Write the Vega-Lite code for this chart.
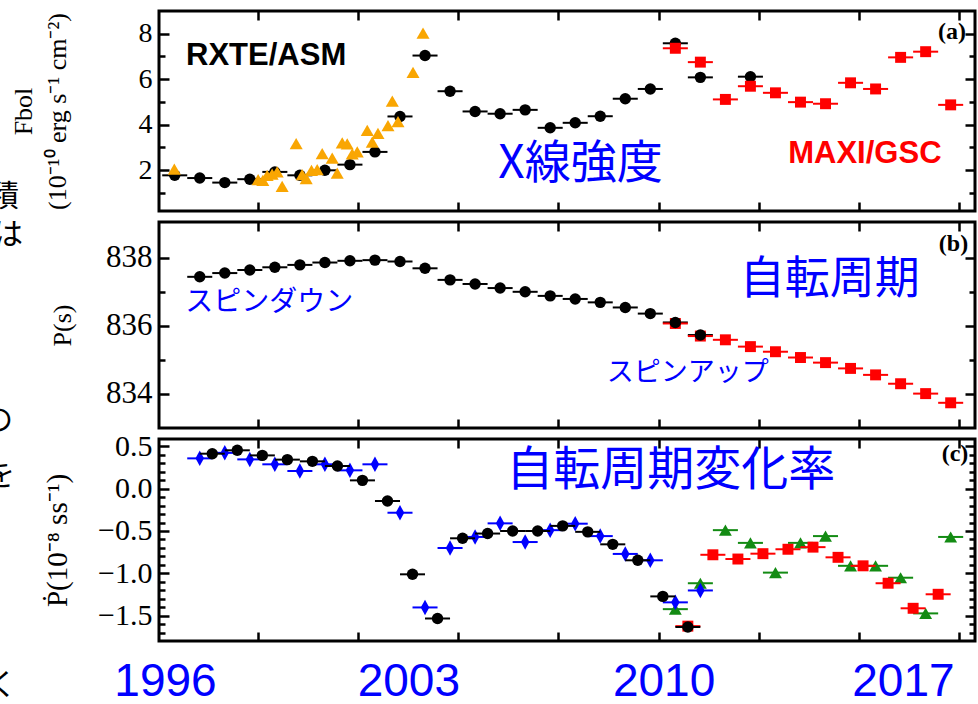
{
  "$schema": "https://vega.github.io/schema/vega-lite/v6.json",
  "background": "white",
  "padding": {"left": -19, "top": 8, "right": 3, "bottom": 0},
  "spacing": 11,
  "bounds": "flush",
  "config": {
    "view": {"stroke": "black", "strokeWidth": 3},
    "axis": {"grid": false, "domain": false, "labelFont": "Liberation Serif", "titleFont": "Liberation Serif", "labelColor": "black", "titleColor": "black", "titleFontWeight": "normal", "tickColor": "black"}
  },
  "datasets": {
    "asm_flux": [
      {"mjd": 50167, "xe": 125, "value": 1.77}, {"mjd": 50417, "xe": 125, "value": 1.65}, {"mjd": 50667, "xe": 125, "value": 1.45},
      {"mjd": 50917, "xe": 125, "value": 1.60}, {"mjd": 51167, "xe": 125, "value": 1.92}, {"mjd": 51417, "xe": 125, "value": 1.77},
      {"mjd": 51667, "xe": 125, "value": 1.99}, {"mjd": 51917, "xe": 125, "value": 2.24}, {"mjd": 52167, "xe": 125, "value": 2.80},
      {"mjd": 52417, "xe": 125, "value": 4.36}, {"mjd": 52667, "xe": 125, "value": 7.04}, {"mjd": 52917, "xe": 125, "value": 5.47},
      {"mjd": 53167, "xe": 125, "value": 4.58}, {"mjd": 53417, "xe": 125, "value": 4.48}, {"mjd": 53667, "xe": 125, "value": 4.65},
      {"mjd": 53917, "xe": 125, "value": 3.86}, {"mjd": 54167, "xe": 125, "value": 4.08}, {"mjd": 54417, "xe": 125, "value": 4.37},
      {"mjd": 54667, "xe": 125, "value": 5.14}, {"mjd": 54917, "xe": 125, "value": 5.57}, {"mjd": 55167, "xe": 125, "value": 7.58},
      {"mjd": 55417, "xe": 125, "value": 6.08}, {"mjd": 55917, "xe": 125, "value": 6.11}
    ],
    "asm_dwell": [
      {"mjd": 50163, "value": 2.04}, {"mjd": 51000, "value": 1.58}, {"mjd": 51047, "value": 1.55}, {"mjd": 51090, "value": 1.77},
      {"mjd": 51140, "value": 1.82}, {"mjd": 51190, "value": 1.92}, {"mjd": 51240, "value": 1.28}, {"mjd": 51380, "value": 3.16},
      {"mjd": 51440, "value": 1.80}, {"mjd": 51480, "value": 1.63}, {"mjd": 51533, "value": 1.99}, {"mjd": 51590, "value": 2.02},
      {"mjd": 51640, "value": 2.72}, {"mjd": 51740, "value": 2.53}, {"mjd": 51790, "value": 1.87}, {"mjd": 51840, "value": 3.20},
      {"mjd": 51890, "value": 3.15}, {"mjd": 51940, "value": 2.71}, {"mjd": 51990, "value": 2.80}, {"mjd": 52090, "value": 3.75},
      {"mjd": 52140, "value": 3.23}, {"mjd": 52197, "value": 3.62}, {"mjd": 52297, "value": 3.96}, {"mjd": 52340, "value": 5.03},
      {"mjd": 52397, "value": 4.13}, {"mjd": 52547, "value": 6.30}, {"mjd": 52647, "value": 8.03}
    ],
    "maxi_flux": [
      {"mjd": 55167, "xe": 125, "value": 7.36}, {"mjd": 55417, "xe": 125, "value": 6.75}, {"mjd": 55667, "xe": 125, "value": 5.11},
      {"mjd": 55917, "xe": 125, "value": 5.69}, {"mjd": 56167, "xe": 125, "value": 5.40}, {"mjd": 56417, "xe": 125, "value": 4.99},
      {"mjd": 56667, "xe": 125, "value": 4.92}, {"mjd": 56917, "xe": 125, "value": 5.84}, {"mjd": 57167, "xe": 125, "value": 5.57},
      {"mjd": 57417, "xe": 125, "value": 6.96}, {"mjd": 57667, "xe": 125, "value": 7.21}, {"mjd": 57917, "xe": 125, "value": 4.87}
    ],
    "asm_period": [
      {"mjd": 50417, "xe": 125, "value": 837.44}, {"mjd": 50667, "xe": 125, "value": 837.55}, {"mjd": 50917, "xe": 125, "value": 837.64},
      {"mjd": 51167, "xe": 125, "value": 837.72}, {"mjd": 51417, "xe": 125, "value": 837.79}, {"mjd": 51667, "xe": 125, "value": 837.86},
      {"mjd": 51917, "xe": 125, "value": 837.91}, {"mjd": 52167, "xe": 125, "value": 837.93}, {"mjd": 52417, "xe": 125, "value": 837.89},
      {"mjd": 52667, "xe": 125, "value": 837.69}, {"mjd": 52917, "xe": 125, "value": 837.35}, {"mjd": 53167, "xe": 125, "value": 837.23},
      {"mjd": 53417, "xe": 125, "value": 837.11}, {"mjd": 53667, "xe": 125, "value": 837.00}, {"mjd": 53917, "xe": 125, "value": 836.88},
      {"mjd": 54167, "xe": 125, "value": 836.79}, {"mjd": 54417, "xe": 125, "value": 836.69}, {"mjd": 54667, "xe": 125, "value": 836.54},
      {"mjd": 54917, "xe": 125, "value": 836.36}, {"mjd": 55167, "xe": 125, "value": 836.10}, {"mjd": 55417, "xe": 125, "value": 835.73}
    ],
    "maxi_period": [
      {"mjd": 55167, "xe": 125, "value": 836.07}, {"mjd": 55417, "xe": 125, "value": 835.70}, {"mjd": 55667, "xe": 125, "value": 835.59},
      {"mjd": 55917, "xe": 125, "value": 835.39}, {"mjd": 56167, "xe": 125, "value": 835.24}, {"mjd": 56417, "xe": 125, "value": 835.07},
      {"mjd": 56667, "xe": 125, "value": 834.92}, {"mjd": 56917, "xe": 125, "value": 834.75}, {"mjd": 57167, "xe": 125, "value": 834.56},
      {"mjd": 57417, "xe": 125, "value": 834.30}, {"mjd": 57667, "xe": 125, "value": 834.01}, {"mjd": 57917, "xe": 125, "value": 833.74}
    ],
    "pdot_black": [
      {"mjd": 50542, "xe": 125, "value": 0.41}, {"mjd": 50792, "xe": 125, "value": 0.45}, {"mjd": 51042, "xe": 125, "value": 0.39},
      {"mjd": 51292, "xe": 125, "value": 0.34}, {"mjd": 51542, "xe": 125, "value": 0.32}, {"mjd": 51792, "xe": 125, "value": 0.265},
      {"mjd": 52042, "xe": 125, "value": 0.096}, {"mjd": 52292, "xe": 125, "value": -0.147}, {"mjd": 52542, "xe": 125, "value": -1.01},
      {"mjd": 52792, "xe": 125, "value": -1.53}, {"mjd": 53042, "xe": 125, "value": -0.586}, {"mjd": 53292, "xe": 125, "value": -0.53},
      {"mjd": 53542, "xe": 125, "value": -0.50}, {"mjd": 53792, "xe": 125, "value": -0.50}, {"mjd": 54042, "xe": 125, "value": -0.44},
      {"mjd": 54292, "xe": 125, "value": -0.51}, {"mjd": 54542, "xe": 125, "value": -0.657}, {"mjd": 54792, "xe": 125, "value": -0.845},
      {"mjd": 55042, "xe": 125, "value": -1.27}, {"mjd": 55292, "xe": 125, "value": -1.63}
    ],
    "pdot_blue": [
      {"mjd": 50417, "xe": 125, "value": 0.355}, {"mjd": 50667, "xe": 125, "value": 0.42}, {"mjd": 50917, "xe": 125, "value": 0.343},
      {"mjd": 51167, "xe": 125, "value": 0.285}, {"mjd": 51417, "xe": 125, "value": 0.206}, {"mjd": 51667, "xe": 125, "value": 0.285},
      {"mjd": 51917, "xe": 125, "value": 0.214}, {"mjd": 52167, "xe": 125, "value": 0.285}, {"mjd": 52417, "xe": 125, "value": -0.285},
      {"mjd": 52667, "xe": 125, "value": -1.40}, {"mjd": 52917, "xe": 125, "value": -0.70}, {"mjd": 53167, "xe": 125, "value": -0.57},
      {"mjd": 53417, "xe": 125, "value": -0.41}, {"mjd": 53667, "xe": 125, "value": -0.63}, {"mjd": 53917, "xe": 125, "value": -0.49},
      {"mjd": 54167, "xe": 125, "value": -0.414}, {"mjd": 54417, "xe": 125, "value": -0.56}, {"mjd": 54667, "xe": 125, "value": -0.77},
      {"mjd": 54917, "xe": 125, "value": -0.845}, {"mjd": 55167, "xe": 125, "value": -1.34}, {"mjd": 55417, "xe": 125, "value": -1.20}
    ],
    "pdot_green": [
      {"mjd": 55167, "xe": 125, "value": -1.42}, {"mjd": 55417, "xe": 125, "value": -1.115}, {"mjd": 55667, "xe": 125, "value": -0.49},
      {"mjd": 55917, "xe": 125, "value": -0.64}, {"mjd": 56167, "xe": 125, "value": -0.99}, {"mjd": 56417, "xe": 125, "value": -0.64},
      {"mjd": 56667, "xe": 125, "value": -0.56}, {"mjd": 56917, "xe": 125, "value": -0.91}, {"mjd": 57167, "xe": 125, "value": -0.91},
      {"mjd": 57417, "xe": 125, "value": -1.05}, {"mjd": 57667, "xe": 125, "value": -1.47}, {"mjd": 57917, "xe": 125, "value": -0.57}
    ],
    "pdot_red": [
      {"mjd": 55292, "xe": 125, "value": -1.62}, {"mjd": 55542, "xe": 125, "value": -0.78}, {"mjd": 55792, "xe": 125, "value": -0.83},
      {"mjd": 56042, "xe": 125, "value": -0.767}, {"mjd": 56292, "xe": 125, "value": -0.715}, {"mjd": 56542, "xe": 125, "value": -0.69},
      {"mjd": 56792, "xe": 125, "value": -0.81}, {"mjd": 57042, "xe": 125, "value": -0.91}, {"mjd": 57292, "xe": 125, "value": -1.115},
      {"mjd": 57542, "xe": 125, "value": -1.41}, {"mjd": 57792, "xe": 125, "value": -1.245}
    ]
  },
  "vconcat": [
    {
      "width": 816, "height": 200,
      "resolve": {"axis": {"x": "independent", "y": "independent"}},
      "layer": [
        {
          "data": {"name": "asm_flux"},
          "mark": {"type": "errorbar", "color": "black", "thickness": 2},
          "encoding": {
            "x": {"field": "mjd", "type": "quantitative", "scale": {"domain": [50010, 58160], "nice": false, "zero": false},
                  "axis": {"orient": "bottom", "values": [51000, 52000, 53000, 54000, 55000, 56000, 57000, 58000], "labels": false, "tickSize": -9, "tickWidth": 2.5, "title": null}},
            "xError": {"field": "xe"},
            "y": {"field": "value", "type": "quantitative", "scale": {"domain": [0.2, 9.0], "nice": false, "zero": false},
                  "axis": {"orient": "left", "values": [1, 2, 3, 4, 5, 6, 7, 8], "labelExpr": "datum.value % 2 == 0 ? datum.label : ''",
                           "tickSize": {"condition": {"test": "datum.value % 2 == 0", "value": -10}, "value": -6},
                           "tickWidth": 2.5, "labelPadding": 17, "labelFontSize": 28, "labelOverlap": false,
                           "title": ["Fbol", "(10⁻¹⁰ erg s⁻¹ cm⁻²)"], "titleX": -136, "titleBaseline": "middle", "titleAngle": 270,
                           "titleFontSize": 26, "titleLineHeight": 34}}
          }
        },
        {
          "data": {"name": "asm_flux"},
          "mark": {"type": "point", "shape": "circle", "filled": true, "color": "black", "opacity": 1, "size": 130},
          "encoding": {
            "x": {"field": "mjd", "type": "quantitative", "scale": {"domain": [50010, 58160], "nice": false, "zero": false}, "axis": null},
            "y": {"field": "value", "type": "quantitative", "scale": {"domain": [0.2, 9.0], "nice": false, "zero": false}, "axis": null}
          }
        },
        {
          "data": {"name": "asm_dwell"},
          "mark": {"type": "point", "shape": "triangle-up", "filled": true, "color": "#f9a602", "opacity": 1, "size": 170},
          "encoding": {
            "x": {"field": "mjd", "type": "quantitative", "scale": {"domain": [50010, 58160], "nice": false, "zero": false}, "axis": null},
            "y": {"field": "value", "type": "quantitative", "scale": {"domain": [0.2, 9.0], "nice": false, "zero": false}, "axis": null}
          }
        },
        {
          "data": {"name": "maxi_flux"},
          "mark": {"type": "errorbar", "color": "#ff0000", "thickness": 2},
          "encoding": {
            "x": {"field": "mjd", "type": "quantitative", "scale": {"domain": [50010, 58160], "nice": false, "zero": false}, "axis": null},
            "xError": {"field": "xe"},
            "y": {"field": "value", "type": "quantitative", "scale": {"domain": [0.2, 9.0], "nice": false, "zero": false}, "axis": null}
          }
        },
        {
          "data": {"name": "maxi_flux"},
          "mark": {"type": "point", "shape": "square", "filled": true, "color": "#ff0000", "opacity": 1, "size": 120},
          "encoding": {
            "x": {"field": "mjd", "type": "quantitative", "scale": {"domain": [50010, 58160], "nice": false, "zero": false}, "axis": null},
            "y": {"field": "value", "type": "quantitative", "scale": {"domain": [0.2, 9.0], "nice": false, "zero": false}, "axis": null}
          }
        },
        {
          "data": {"values": [{}]},
          "mark": {"type": "text", "text": "RXTE/ASM", "font": "Liberation Sans", "fontWeight": "bold", "fontSize": 31, "color": "black", "align": "center", "baseline": "middle"},
          "encoding": {
            "x": {"datum": 51080, "type": "quantitative", "scale": {"domain": [50010, 58160], "nice": false, "zero": false}, "axis": null},
            "y": {"datum": 7.04, "type": "quantitative", "scale": {"domain": [0.2, 9.0], "nice": false, "zero": false}, "axis": null}
          }
        },
        {
          "data": {"values": [{}]},
          "mark": {"type": "text", "text": "MAXI/GSC", "font": "Liberation Sans", "fontWeight": "bold", "fontSize": 31, "color": "#ff0000", "align": "center", "baseline": "middle"},
          "encoding": {
            "x": {"datum": 57060, "type": "quantitative", "scale": {"domain": [50010, 58160], "nice": false, "zero": false}, "axis": null},
            "y": {"datum": 2.69, "type": "quantitative", "scale": {"domain": [0.2, 9.0], "nice": false, "zero": false}, "axis": null}
          }
        },
        {
          "data": {"values": [{}]},
          "mark": {"type": "text", "text": "X線強度", "font": "Noto Sans CJK JP", "fontSize": 46, "color": "#0000ff", "align": "center", "baseline": "middle"},
          "encoding": {
            "x": {"datum": 54220, "type": "quantitative", "scale": {"domain": [50010, 58160], "nice": false, "zero": false}, "axis": null},
            "y": {"datum": 2.25, "type": "quantitative", "scale": {"domain": [0.2, 9.0], "nice": false, "zero": false}, "axis": null}
          }
        },
        {
          "data": {"values": [{}]},
          "mark": {"type": "text", "text": "積", "font": "Noto Sans CJK JP", "fontSize": 30, "color": "black", "align": "center", "baseline": "middle"},
          "encoding": {
            "x": {"datum": 48462, "type": "quantitative", "scale": {"domain": [50010, 58160], "nice": false, "zero": false}, "axis": null},
            "y": {"datum": 0.81, "type": "quantitative", "scale": {"domain": [0.2, 9.0], "nice": false, "zero": false}, "axis": null}
          }
        },
        {
          "data": {"values": [{}]},
          "mark": {"type": "text", "text": "(a)", "font": "Liberation Serif", "fontWeight": "bold", "fontSize": 24, "color": "black", "align": "center", "baseline": "middle"},
          "encoding": {
            "x": {"datum": 57930, "type": "quantitative", "scale": {"domain": [50010, 58160], "nice": false, "zero": false},
                  "axis": {"orient": "top", "values": [51000, 52000, 53000, 54000, 55000, 56000, 57000, 58000], "labels": false, "tickSize": -9, "tickWidth": 2.5, "title": null}},
            "y": {"datum": 8.09, "type": "quantitative", "scale": {"domain": [0.2, 9.0], "nice": false, "zero": false},
                  "axis": {"orient": "right", "values": [1, 2, 3, 4, 5, 6, 7, 8], "labels": false,
                           "tickSize": {"condition": {"test": "datum.value % 2 == 0", "value": -10}, "value": -6}, "tickWidth": 2.5, "title": null}}
          }
        }
      ]
    },
    {
      "width": 816, "height": 206,
      "resolve": {"axis": {"x": "independent", "y": "independent"}},
      "layer": [
        {
          "data": {"name": "asm_period"},
          "mark": {"type": "errorbar", "color": "black", "thickness": 2},
          "encoding": {
            "x": {"field": "mjd", "type": "quantitative", "scale": {"domain": [50010, 58160], "nice": false, "zero": false},
                  "axis": {"orient": "bottom", "values": [51000, 52000, 53000, 54000, 55000, 56000, 57000, 58000], "labels": false, "tickSize": -9, "tickWidth": 2.5, "title": null}},
            "xError": {"field": "xe"},
            "y": {"field": "value", "type": "quantitative", "scale": {"domain": [833.0, 839.05], "nice": false, "zero": false},
                  "axis": {"orient": "left", "values": [834, 835, 836, 837, 838], "labelExpr": "datum.value % 2 == 0 ? datum.label : ''",
                           "tickSize": {"condition": {"test": "datum.value % 2 == 0", "value": -10}, "value": -6},
                           "tickWidth": 2.5, "labelPadding": 17, "labelFontSize": 31, "labelOverlap": false,
                           "title": "P(s)", "titleX": -97, "titleBaseline": "middle", "titleAngle": 270, "titleFontSize": 26}}
          }
        },
        {
          "data": {"name": "maxi_period"},
          "mark": {"type": "errorbar", "color": "#ff0000", "thickness": 2},
          "encoding": {
            "x": {"field": "mjd", "type": "quantitative", "scale": {"domain": [50010, 58160], "nice": false, "zero": false}, "axis": null},
            "xError": {"field": "xe"},
            "y": {"field": "value", "type": "quantitative", "scale": {"domain": [833.0, 839.05], "nice": false, "zero": false}, "axis": null}
          }
        },
        {
          "data": {"name": "maxi_period"},
          "mark": {"type": "point", "shape": "square", "filled": true, "color": "#ff0000", "opacity": 1, "size": 120},
          "encoding": {
            "x": {"field": "mjd", "type": "quantitative", "scale": {"domain": [50010, 58160], "nice": false, "zero": false}, "axis": null},
            "y": {"field": "value", "type": "quantitative", "scale": {"domain": [833.0, 839.05], "nice": false, "zero": false}, "axis": null}
          }
        },
        {
          "data": {"name": "asm_period"},
          "mark": {"type": "point", "shape": "circle", "filled": true, "color": "black", "opacity": 1, "size": 130},
          "encoding": {
            "x": {"field": "mjd", "type": "quantitative", "scale": {"domain": [50010, 58160], "nice": false, "zero": false}, "axis": null},
            "y": {"field": "value", "type": "quantitative", "scale": {"domain": [833.0, 839.05], "nice": false, "zero": false}, "axis": null}
          }
        },
        {
          "data": {"values": [{}]},
          "mark": {"type": "text", "text": "自転周期", "font": "Noto Sans CJK JP", "fontSize": 45, "color": "#0000ff", "align": "center", "baseline": "middle"},
          "encoding": {
            "x": {"datum": 56710, "type": "quantitative", "scale": {"domain": [50010, 58160], "nice": false, "zero": false}, "axis": null},
            "y": {"datum": 837.35, "type": "quantitative", "scale": {"domain": [833.0, 839.05], "nice": false, "zero": false}, "axis": null}
          }
        },
        {
          "data": {"values": [{}]},
          "mark": {"type": "text", "text": "スピンダウン", "font": "Noto Sans CJK JP", "fontSize": 28, "color": "#0000ff", "align": "center", "baseline": "middle"},
          "encoding": {
            "x": {"datum": 51110, "type": "quantitative", "scale": {"domain": [50010, 58160], "nice": false, "zero": false}, "axis": null},
            "y": {"datum": 836.68, "type": "quantitative", "scale": {"domain": [833.0, 839.05], "nice": false, "zero": false}, "axis": null}
          }
        },
        {
          "data": {"values": [{}]},
          "mark": {"type": "text", "text": "スピンアップ", "font": "Noto Sans CJK JP", "fontSize": 27, "color": "#0000ff", "align": "center", "baseline": "middle"},
          "encoding": {
            "x": {"datum": 55290, "type": "quantitative", "scale": {"domain": [50010, 58160], "nice": false, "zero": false}, "axis": null},
            "y": {"datum": 834.62, "type": "quantitative", "scale": {"domain": [833.0, 839.05], "nice": false, "zero": false}, "axis": null}
          }
        },
        {
          "data": {"values": [{}]},
          "mark": {"type": "text", "text": "は", "font": "Noto Sans CJK JP", "fontSize": 30, "color": "black", "align": "center", "baseline": "middle"},
          "encoding": {
            "x": {"datum": 48502, "type": "quantitative", "scale": {"domain": [50010, 58160], "nice": false, "zero": false}, "axis": null},
            "y": {"datum": 838.68, "type": "quantitative", "scale": {"domain": [833.0, 839.05], "nice": false, "zero": false}, "axis": null}
          }
        },
        {
          "data": {"values": [{}]},
          "mark": {"type": "text", "text": "の", "font": "Noto Sans CJK JP", "fontSize": 30, "color": "black", "align": "center", "baseline": "middle"},
          "encoding": {
            "x": {"datum": 48402, "type": "quantitative", "scale": {"domain": [50010, 58160], "nice": false, "zero": false}, "axis": null},
            "y": {"datum": 833.2, "type": "quantitative", "scale": {"domain": [833.0, 839.05], "nice": false, "zero": false}, "axis": null}
          }
        },
        {
          "data": {"values": [{}]},
          "mark": {"type": "text", "text": "(b)", "font": "Liberation Serif", "fontWeight": "bold", "fontSize": 24, "color": "black", "align": "center", "baseline": "middle"},
          "encoding": {
            "x": {"datum": 57945, "type": "quantitative", "scale": {"domain": [50010, 58160], "nice": false, "zero": false},
                  "axis": {"orient": "top", "values": [51000, 52000, 53000, 54000, 55000, 56000, 57000, 58000], "labels": false, "tickSize": -9, "tickWidth": 2.5, "title": null}},
            "y": {"datum": 838.41, "type": "quantitative", "scale": {"domain": [833.0, 839.05], "nice": false, "zero": false},
                  "axis": {"orient": "right", "values": [834, 835, 836, 837, 838], "labels": false,
                           "tickSize": {"condition": {"test": "datum.value % 2 == 0", "value": -10}, "value": -6}, "tickWidth": 2.5, "title": null}}
          }
        }
      ]
    },
    {
      "width": 816, "height": 202,
      "resolve": {"axis": {"x": "independent", "y": "independent"}},
      "layer": [
        {
          "data": {"name": "pdot_green"},
          "mark": {"type": "errorbar", "color": "#138b13", "thickness": 2},
          "encoding": {
            "x": {"field": "mjd", "type": "quantitative", "scale": {"domain": [50010, 58160], "nice": false, "zero": false},
                  "axis": {"orient": "bottom", "values": [50070, 51000, 52000, 52500, 53000, 54000, 55000, 55050, 56000, 57000, 57440, 58000],
                           "labelExpr": "datum.value == 50070 ? '1996' : datum.value == 52500 ? '2003' : datum.value == 55050 ? '2010' : datum.value == 57440 ? '2017' : ''",
                           "tickSize": -9, "tickWidth": 2.5,
                           "tickColor": {"condition": {"test": "datum.value % 1000 != 0", "value": "transparent"}, "value": "black"},
                           "labelFont": "Liberation Sans", "labelFontSize": 46, "labelColor": "#0000ff", "labelPadding": 27,
                           "labelOverlap": false, "labelFlush": false, "labelBound": false, "title": null}},
            "xError": {"field": "xe"},
            "y": {"field": "value", "type": "quantitative", "scale": {"domain": [-1.795, 0.583], "nice": false, "zero": false},
                  "axis": {"orient": "left", "values": [-1.7, -1.6, -1.5, -1.4, -1.3, -1.2, -1.1, -1.0, -0.9, -0.8, -0.7, -0.6, -0.5, -0.4, -0.3, -0.2, -0.1, 0, 0.1, 0.2, 0.3, 0.4, 0.5],
                           "labelExpr": "abs(datum.value * 2 - round(datum.value * 2)) < 0.001 ? format(datum.value, '.1f') : ''",
                           "tickSize": {"condition": {"test": "abs(datum.value * 2 - round(datum.value * 2)) < 0.001", "value": -10}, "value": -6},
                           "tickWidth": 2.5, "labelPadding": 17, "labelFontSize": 30, "labelOverlap": false,
                           "title": "Ṗ(10⁻⁸ ss⁻¹)", "titleX": -102, "titleBaseline": "middle", "titleAngle": 270, "titleFontSize": 29}}
          }
        },
        {
          "data": {"name": "pdot_green"},
          "mark": {"type": "point", "shape": "triangle-up", "filled": true, "color": "#138b13", "opacity": 1, "size": 165},
          "encoding": {
            "x": {"field": "mjd", "type": "quantitative", "scale": {"domain": [50010, 58160], "nice": false, "zero": false}, "axis": null},
            "y": {"field": "value", "type": "quantitative", "scale": {"domain": [-1.795, 0.583], "nice": false, "zero": false}, "axis": null}
          }
        },
        {
          "data": {"name": "pdot_red"},
          "mark": {"type": "errorbar", "color": "#ff0000", "thickness": 2},
          "encoding": {
            "x": {"field": "mjd", "type": "quantitative", "scale": {"domain": [50010, 58160], "nice": false, "zero": false}, "axis": null},
            "xError": {"field": "xe"},
            "y": {"field": "value", "type": "quantitative", "scale": {"domain": [-1.795, 0.583], "nice": false, "zero": false}, "axis": null}
          }
        },
        {
          "data": {"name": "pdot_red"},
          "mark": {"type": "point", "shape": "square", "filled": true, "color": "#ff0000", "opacity": 1, "size": 120},
          "encoding": {
            "x": {"field": "mjd", "type": "quantitative", "scale": {"domain": [50010, 58160], "nice": false, "zero": false}, "axis": null},
            "y": {"field": "value", "type": "quantitative", "scale": {"domain": [-1.795, 0.583], "nice": false, "zero": false}, "axis": null}
          }
        },
        {
          "data": {"name": "pdot_blue"},
          "mark": {"type": "errorbar", "color": "#0000ff", "thickness": 2},
          "encoding": {
            "x": {"field": "mjd", "type": "quantitative", "scale": {"domain": [50010, 58160], "nice": false, "zero": false}, "axis": null},
            "xError": {"field": "xe"},
            "y": {"field": "value", "type": "quantitative", "scale": {"domain": [-1.795, 0.583], "nice": false, "zero": false}, "axis": null}
          }
        },
        {
          "data": {"name": "pdot_blue"},
          "mark": {"type": "point", "shape": "M0,-1L0.55,0L0,1L-0.55,0Z", "filled": true, "color": "#0000ff", "opacity": 1, "size": 240},
          "encoding": {
            "x": {"field": "mjd", "type": "quantitative", "scale": {"domain": [50010, 58160], "nice": false, "zero": false}, "axis": null},
            "y": {"field": "value", "type": "quantitative", "scale": {"domain": [-1.795, 0.583], "nice": false, "zero": false}, "axis": null}
          }
        },
        {
          "data": {"name": "pdot_black"},
          "mark": {"type": "errorbar", "color": "black", "thickness": 2},
          "encoding": {
            "x": {"field": "mjd", "type": "quantitative", "scale": {"domain": [50010, 58160], "nice": false, "zero": false}, "axis": null},
            "xError": {"field": "xe"},
            "y": {"field": "value", "type": "quantitative", "scale": {"domain": [-1.795, 0.583], "nice": false, "zero": false}, "axis": null}
          }
        },
        {
          "data": {"name": "pdot_black"},
          "mark": {"type": "point", "shape": "circle", "filled": true, "color": "black", "opacity": 1, "size": 130},
          "encoding": {
            "x": {"field": "mjd", "type": "quantitative", "scale": {"domain": [50010, 58160], "nice": false, "zero": false}, "axis": null},
            "y": {"field": "value", "type": "quantitative", "scale": {"domain": [-1.795, 0.583], "nice": false, "zero": false}, "axis": null}
          }
        },
        {
          "data": {"values": [{}]},
          "mark": {"type": "text", "text": "自転周期変化率", "font": "Noto Sans CJK JP", "fontSize": 47, "color": "#0000ff", "align": "center", "baseline": "middle"},
          "encoding": {
            "x": {"datum": 55120, "type": "quantitative", "scale": {"domain": [50010, 58160], "nice": false, "zero": false}, "axis": null},
            "y": {"datum": 0.205, "type": "quantitative", "scale": {"domain": [-1.795, 0.583], "nice": false, "zero": false}, "axis": null}
          }
        },
        {
          "data": {"values": [{}]},
          "mark": {"type": "text", "text": "を", "font": "Noto Sans CJK JP", "fontSize": 30, "color": "black", "align": "center", "baseline": "middle"},
          "encoding": {
            "x": {"datum": 48422, "type": "quantitative", "scale": {"domain": [50010, 58160], "nice": false, "zero": false}, "axis": null},
            "y": {"datum": 0.146, "type": "quantitative", "scale": {"domain": [-1.795, 0.583], "nice": false, "zero": false}, "axis": null}
          }
        },
        {
          "data": {"values": [{}]},
          "mark": {"type": "text", "text": "く", "font": "Noto Sans CJK JP", "fontSize": 30, "color": "black", "align": "center", "baseline": "middle"},
          "encoding": {
            "x": {"datum": 48442, "type": "quantitative", "scale": {"domain": [50010, 58160], "nice": false, "zero": false}, "axis": null},
            "y": {"datum": -2.33, "type": "quantitative", "scale": {"domain": [-1.795, 0.583], "nice": false, "zero": false}, "axis": null}
          }
        },
        {
          "data": {"values": [{}]},
          "mark": {"type": "text", "text": "(c)", "font": "Liberation Serif", "fontWeight": "bold", "fontSize": 24, "color": "black", "align": "center", "baseline": "middle"},
          "encoding": {
            "x": {"datum": 57960, "type": "quantitative", "scale": {"domain": [50010, 58160], "nice": false, "zero": false},
                  "axis": {"orient": "top", "values": [51000, 52000, 53000, 54000, 55000, 56000, 57000, 58000], "labels": false, "tickSize": -9, "tickWidth": 2.5, "title": null}},
            "y": {"datum": 0.405, "type": "quantitative", "scale": {"domain": [-1.795, 0.583], "nice": false, "zero": false},
                  "axis": {"orient": "right", "values": [-1.7, -1.6, -1.5, -1.4, -1.3, -1.2, -1.1, -1.0, -0.9, -0.8, -0.7, -0.6, -0.5, -0.4, -0.3, -0.2, -0.1, 0, 0.1, 0.2, 0.3, 0.4, 0.5],
                           "labels": false, "tickSize": {"condition": {"test": "abs(datum.value * 2 - round(datum.value * 2)) < 0.001", "value": -10}, "value": -6},
                           "tickWidth": 2.5, "title": null}}
          }
        }
      ]
    }
  ]
}
